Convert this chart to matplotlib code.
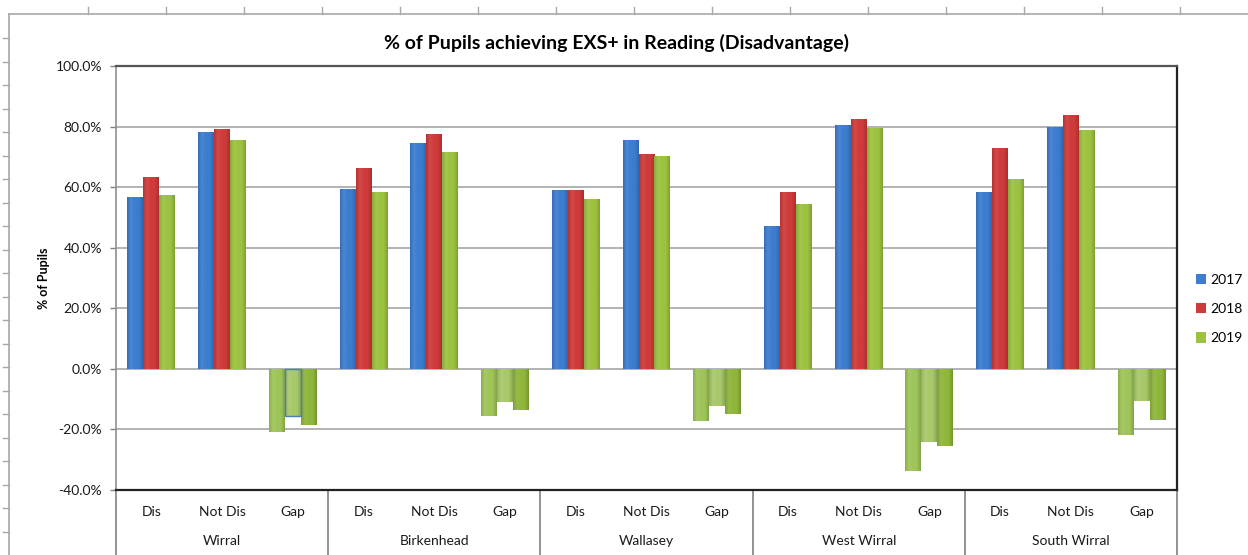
import numpy as np
import matplotlib
matplotlib.use("Agg")
import matplotlib.pyplot as plt
from matplotlib.patches import Patch
from matplotlib.lines import Line2D
from matplotlib.colors import LinearSegmentedColormap
from matplotlib.ticker import FuncFormatter, MultipleLocator

plt.rcParams['font.family'] = ['Lato', 'DejaVu Sans']

areas = ["Wirral", "Birkenhead", "Wallasey", "West Wirral", "South Wirral"]
measures = ["Dis", "Not Dis", "Gap"]
years = ["2017", "2018", "2019"]

# % of pupils, one list per year, ordered area by area (Dis, Not Dis, Gap)
pct_2017 = [56.9, 78.1, -21.0,
            59.4, 74.7, -15.5,
            59.0, 75.6, -17.2,
            47.2, 80.6, -33.6,
            58.3, 80.0, -21.9]
pct_2018 = [63.5, 79.1, -15.6,
            66.4, 77.7, -11.1,
            59.0, 71.1, -12.4,
            58.3, 82.6, -24.2,
            73.0, 83.7, -10.5]
pct_2019 = [57.4, 75.6, -18.6,
            58.3, 71.5, -13.6,
            56.0, 70.4, -15.0,
            54.4, 79.5, -25.5,
            62.6, 79.0, -16.8]

series = [pct_2017, pct_2018, pct_2019]
pos_colors = ["#3c7dd0", "#cf3a3a", "#9cc23f"]
neg_colors = ["#9fc55a", "#a8c969", "#8fb63a"]

fig = plt.figure(figsize=(12.48, 5.55), dpi=100)
W, H = 1248, 555
ax = fig.add_axes([116 / W, (H - 490) / H, (1177 - 116) / W, (490 - 66) / H])

n = len(areas) * len(measures)
x = np.arange(n)
bw = 0.226


def shade(c, f):
    r, g, b = matplotlib.colors.to_rgb(c)
    if f >= 0:
        return (r + (1 - r) * f, g + (1 - g) * f, b + (1 - b) * f)
    return (r * (1 + f), g * (1 + f), b * (1 + f))


def bevel(ax, patch, color):
    # horizontal shading across the bar to give a rounded look
    x0, y0 = patch.get_x(), patch.get_y()
    w, h = patch.get_width(), patch.get_height()
    cmap = LinearSegmentedColormap.from_list(
        "b", [shade(color, -0.12), shade(color, 0.08), color, color,
              shade(color, -0.18)])
    grad = np.linspace(0, 1, 64).reshape(1, -1)
    im = ax.imshow(grad, cmap=cmap, aspect="auto", zorder=3,
                   interpolation="bilinear",
                   extent=(x0, x0 + w, min(y0, y0 + h), max(y0, y0 + h)))
    im.set_clip_path(patch)


for i, vals in enumerate(series):
    cols = [pos_colors[i] if v >= 0 else neg_colors[i] for v in vals]
    bars = ax.bar(x + (i - 1) * bw, vals, bw, color=cols, zorder=3,
                  edgecolor="none")
    for b, c in zip(bars, cols):
        bevel(ax, b, c)

# Wirral gap bar for 2018 keeps a blue outline
ax.bar(x[2], pct_2018[2], bw, color="none", edgecolor="#4a7cc0",
       linewidth=1.0, zorder=4)

ax.set_xlim(-0.5, n - 0.5)
ax.set_ylim(-40, 100)
ax.yaxis.set_major_locator(MultipleLocator(20))
ax.yaxis.set_major_formatter(FuncFormatter(lambda v, p: f"{v:.1f}%"))
ax.grid(axis="y", color="#a6a6a6", linewidth=1.2, zorder=0)
ax.set_axisbelow(True)
ax.tick_params(axis="y", length=4, width=1, color="#808080", labelsize=10,
               pad=6, labelcolor="#1a1a1a")
ax.set_xticks([])
ax.set_ylabel("% of Pupils", fontsize=9, fontweight="bold")
ax.yaxis.set_label_coords(-0.062, 0.5)

for side, c, lw in [("top", "#555555", 1.6), ("right", "#222222", 1.6),
                    ("bottom", "#222222", 1.6), ("left", "#909090", 1.2)]:
    ax.spines[side].set_color(c)
    ax.spines[side].set_linewidth(lw)

# two-level category axis
trans = ax.get_xaxis_transform()
for k in range(n):
    ax.text(x[k], -0.052, measures[k % 3], transform=trans, ha="center",
            va="center", fontsize=10, color="#1a1a1a")
for g, name in enumerate(areas):
    ax.text(g * 3 + 1, -0.120, name, transform=trans, ha="center",
            va="center", fontsize=10, color="#1a1a1a")
for g in range(len(areas) + 1):
    ax.add_line(Line2D([g * 3 - 0.5] * 2, [0, -0.16], transform=trans,
                       color="#808080", linewidth=1.2, clip_on=False))

fig.text(617 / W, 1 - 43 / H,
         "% of Pupils achieving EXS+ in Reading (Disadvantage)",
         ha="center", va="center", fontsize=14, fontweight="bold")

handles = [Patch(facecolor=c, edgecolor="none") for c in pos_colors]
fig.legend(handles, years, loc="center left",
           bbox_to_anchor=(1183 / W, 1 - 309 / H), frameon=False,
           handlelength=0.75, handleheight=0.75, handletextpad=0.3,
           labelspacing=1.25, fontsize=10)

# worksheet cell borders around the chart
gray = "#a8a8a8"
fig.add_artist(Line2D([9 / W, 1], [1 - 14 / H] * 2, color=gray, lw=1.2))
fig.add_artist(Line2D([9 / W] * 2, [0, 1 - 14 / H], color=gray, lw=1.2))
for px in np.arange(88, W, 78):
    fig.add_artist(Line2D([px / W] * 2, [1 - 7 / H, 1 - 14 / H],
                          color=gray, lw=1))
for py in np.arange(38, H, 23.5):
    fig.add_artist(Line2D([3 / W, 9 / W], [1 - py / H] * 2,
                          color=gray, lw=1))

fig.savefig("out.png", dpi=100, facecolor="white")
